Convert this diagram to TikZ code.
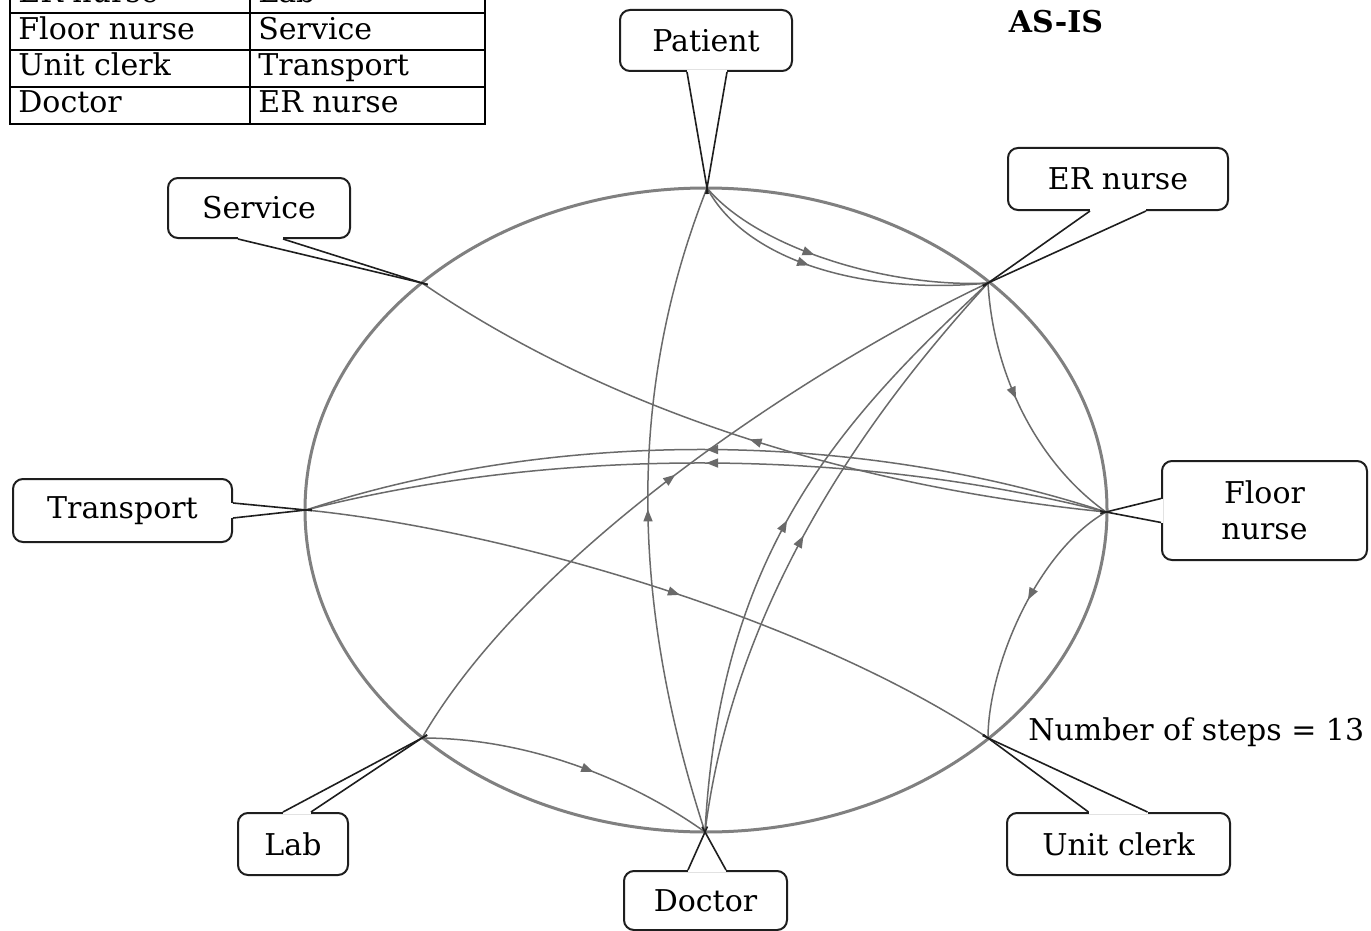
\documentclass[tikz,border=0pt]{standalone}
\usepackage{fontspec}
\setmainfont{DejaVu Serif}
\usetikzlibrary{arrows.meta,decorations.markings,calc}
\definecolor{edgegray}{HTML}{6A6A6A}
\definecolor{ringgray}{HTML}{808080}
\definecolor{inkdark}{HTML}{1E1E1E}
\tikzset{
  ring/.style={draw=ringgray, line width=1.5pt},
  flow/.style={draw=edgegray, line width=0.75pt, postaction={decorate},
    decoration={markings, mark=at position #1 with {\arrow[edgegray]{Triangle[length=6pt,width=4.5pt]}}}},
  flow/.default=0.5,
  callout/.style={draw=inkdark, line width=1pt, rounded corners=5pt, fill=white,
    inner sep=0pt, align=center, font=\fontsize{15pt}{18pt}\selectfont},
  tail/.style={draw=inkdark, line width=0.8pt, shorten >=-3pt},
  gap/.style={draw=white, line width=2.2pt},
  cell/.style={anchor=base west, inner sep=0pt, font=\fontsize{15pt}{18pt}\selectfont},
  grid/.style={draw=black, line width=1pt},
  plain/.style={inner sep=0pt, font=\fontsize{15pt}{18pt}\selectfont},
}
\begin{document}
\begin{tikzpicture}[x=0.5pt, y=-0.5pt]
\fill[white] (0,0) rectangle (1371,931);
\useasboundingbox (0,0) rectangle (1371,931);

% legend table, its first row running off the top edge
\begin{scope}
  \clip (0,0) rectangle (1371,931);
  \draw[grid] (10,-30) -- (10,124) -- (485,124) -- (485,-30);
  \draw[grid] (250,-30) -- (250,124);
  \draw[grid] (10,13) -- (485,13) (10,50) -- (485,50) (10,87) -- (485,87);
  \node[cell] (ta0) at (18,2.5) {ER nurse};
  \node[cell] (tb0) at (258,2.5) {Lab};
  \node[cell] (ta1) at (18,39.5) {Floor nurse};
  \node[cell] (tb1) at (258,39.5) {Service};
  \node[cell] (ta2) at (18,76) {Unit clerk};
  \node[cell] (tb2) at (258,76) {Transport};
  \node[cell] (ta3) at (18,112.5) {Doctor};
  \node[cell] (tb3) at (258,112.5) {ER nurse};
\end{scope}

\node[plain, font=\fontsize{15pt}{18pt}\selectfont\bfseries] (title) at (1056,22) {AS-IS};
\node[plain, anchor=west] (steps) at (1028,732) {Number of steps = 13};

% the ring and the eight stations on it
\draw[ring] (706,510) ellipse [x radius=200.5pt, y radius=161pt];
\coordinate (pat) at (707,188);
\coordinate (ern) at (988,283);
\coordinate (fln) at (1106,512);
\coordinate (unc) at (988,738);
\coordinate (doc) at (705,832);
\coordinate (lab) at (422,738);
\coordinate (trn) at (306,510);
\coordinate (srv) at (422,283);

% hand-offs
\draw[flow=0.42] (pat) .. controls +(50,60) and +(-100,5) .. (ern);
\draw[flow=0.42] (pat) .. controls +(40,75) and +(-120,12) .. (ern);
\draw[flow=0.45] (ern) .. controls +(5,90) and +(-70,-50) .. (fln);
\draw[flow] (fln) .. controls +(-250,-82) and +(250,-82) .. (trn);
\draw[flow] (fln) .. controls +(-250,-64) and +(250,-64) .. (trn);
\draw[flow] (fln) .. controls +(-200,-20) and +(220,150) .. (srv);
\draw[flow=0.53] (trn) .. controls +(200,20) and +(-180,-120) .. (unc);
\draw[flow=0.45] (fln) .. controls +(-70,40) and +(0,-70) .. (unc);
\draw[flow] (doc) .. controls +(-70,-215) and +(-85,215) .. (pat);
\draw[flow=0.51] (doc) .. controls +(15,-280) and +(-150,140) .. (ern);
\draw[flow=0.5] (doc) .. controls +(30,-240) and +(-110,120) .. (ern);
\draw[flow] (lab) .. controls +(110,-190) and +(-170,80) .. (ern);
\draw[flow=0.58] (lab) .. controls +(110,0) and +(-70,-50) .. (doc);

% callout boxes
\node[callout, minimum width=86pt, minimum height=30.5pt] (bPat) at (706,40.5) {Patient};
\node[callout, minimum width=110pt, minimum height=31pt] (bErn) at (1118,179) {ER nurse};
\node[callout, minimum width=91pt, minimum height=30pt] (bSrv) at (259,208) {Service};
\node[callout, minimum width=109.5pt, minimum height=31.5pt] (bTrn) at (122.5,510.5) {Transport};
\node[callout, minimum width=102.5pt, minimum height=49.5pt] (bFln) at (1264.5,510.5) {Floor\\nurse};
\node[callout, minimum width=111.5pt, minimum height=31pt] (bUnc) at (1118.5,844) {Unit clerk};
\node[callout, minimum width=81.5pt, minimum height=29.5pt] (bDoc) at (705.5,900.5) {Doctor};
\node[callout, minimum width=55pt, minimum height=31pt] (bLab) at (293,844) {Lab};

% callout tails
\draw[gap] ($(bPat.south)+(-19,0)$) -- ($(bPat.south)+(21,0)$);
\draw[tail] ($(bPat.south)+(-19,0)$) -- (pat);
\draw[tail] ($(bPat.south)+(21,0)$) -- (pat);

\draw[gap] ($(bErn.south)+(-28,0)$) -- ($(bErn.south)+(28,0)$);
\draw[tail] ($(bErn.south)+(-28,0)$) -- (ern);
\draw[tail] ($(bErn.south)+(28,0)$) -- (ern);

\draw[gap] ($(bSrv.south)+(-21,0)$) -- ($(bSrv.south)+(24,0)$);
\draw[tail] ($(bSrv.south)+(-21,0)$) -- (srv);
\draw[tail] ($(bSrv.south)+(24,0)$) -- (srv);

\draw[gap] ($(bTrn.east)+(0,-7.5)$) -- ($(bTrn.east)+(0,7.5)$);
\draw[tail] ($(bTrn.east)+(0,-7.5)$) -- (trn);
\draw[tail] ($(bTrn.east)+(0,7.5)$) -- (trn);

\draw[gap] ($(bFln.west)+(0,-12)$) -- ($(bFln.west)+(0,12)$);
\draw[tail] ($(bFln.west)+(0,-12)$) -- (fln);
\draw[tail] ($(bFln.west)+(0,12)$) -- (fln);

\draw[gap] ($(bUnc.north)+(-30,0)$) -- ($(bUnc.north)+(29,0)$);
\draw[tail] ($(bUnc.north)+(-30,0)$) -- (unc);
\draw[tail] ($(bUnc.north)+(29,0)$) -- (unc);

\draw[gap] ($(bDoc.north)+(-17.5,0)$) -- ($(bDoc.north)+(20.5,0)$);
\draw[tail] ($(bDoc.north)+(-17.5,0)$) -- (doc);
\draw[tail] ($(bDoc.north)+(20.5,0)$) -- (doc);

\draw[gap] ($(bLab.north)+(-10,0)$) -- ($(bLab.north)+(18,0)$);
\draw[tail] ($(bLab.north)+(-10,0)$) -- (lab);
\draw[tail] ($(bLab.north)+(18,0)$) -- (lab);
\end{tikzpicture}
\end{document}
